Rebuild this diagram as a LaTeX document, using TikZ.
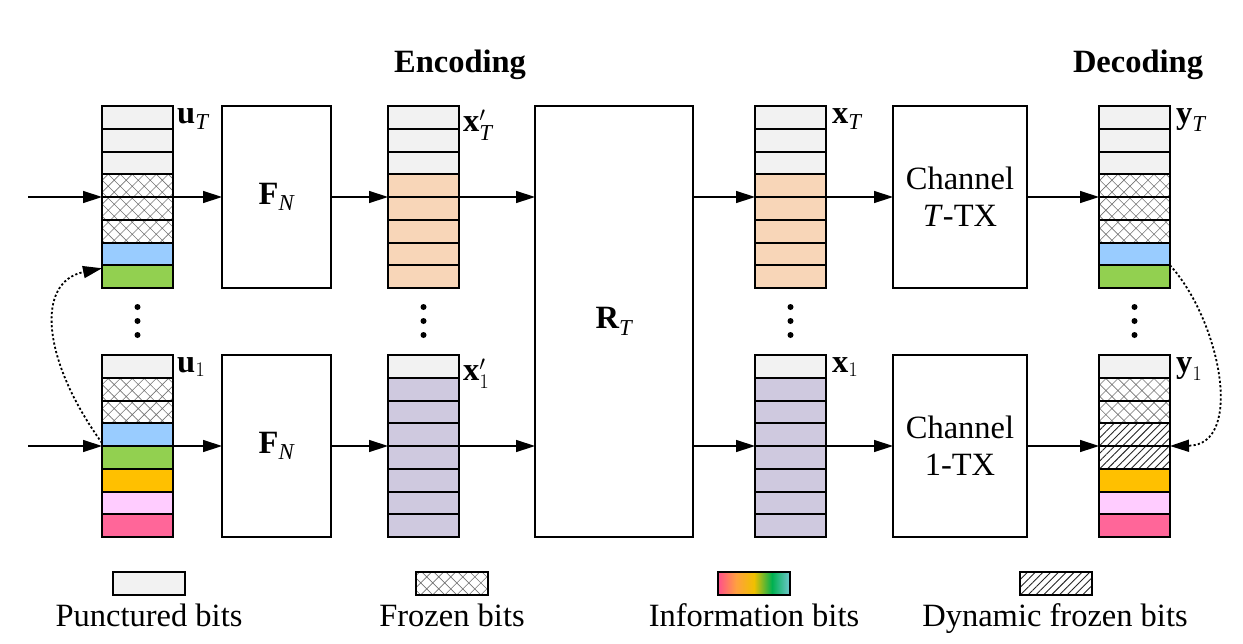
\documentclass[tikz,border=0pt]{standalone}
\usepackage{amsmath}
\usepackage{fontspec}
\setmainfont{Liberation Serif}
\usetikzlibrary{patterns.meta,arrows.meta}
\definecolor{cPun}{HTML}{F2F2F2}
\definecolor{cBlue}{HTML}{99CCFF}
\definecolor{cGreen}{HTML}{92D050}
\definecolor{cOrange}{HTML}{FFC000}
\definecolor{cPink}{HTML}{FFCCFF}
\definecolor{cRose}{HTML}{FF6699}
\definecolor{cPeach}{HTML}{F8D6B8}
\definecolor{cLav}{HTML}{CFC9DF}
\definecolor{gA}{HTML}{FF4F8B}
\definecolor{gB}{HTML}{FFA040}
\definecolor{gC}{HTML}{F0C000}
\definecolor{gD}{HTML}{00B050}
\definecolor{gE}{HTML}{70C8D0}
\newcommand\bitcol[4]{%
  \foreach \s [count=\i] in {#4}{%
    \node[cell,\s,anchor=north west] (#1-\i) at ({#2},{#3+(\i-1)*22.75}) {};
  }}
\begin{document}
\begin{tikzpicture}[x=1pt,y=-1pt,
  font=\fontsize{32.5}{37}\selectfont,
  cell/.style={draw, line width=2pt, minimum width=71pt, minimum height=22.75pt, inner sep=0pt, outer sep=0pt},
  bPun/.style={fill=cPun},
  bFrz/.style={pattern={Hatch[angle=45,distance=8.5pt,line width=0.6pt]}, pattern color=black!55},
  bDyn/.style={pattern={Lines[angle=45,distance=5.5pt,line width=0.9pt]}, pattern color=black!85},
  bBlue/.style={fill=cBlue},
  bGreen/.style={fill=cGreen},
  bOrange/.style={fill=cOrange},
  bPink/.style={fill=cPink},
  bRose/.style={fill=cRose},
  bPeach/.style={fill=cPeach},
  bLav/.style={fill=cLav},
  box/.style={draw, line width=1.6pt, inner sep=0pt, outer sep=0pt, align=center},
  arr/.style={line width=1.4pt, -{Triangle[length=19pt,width=12pt]}},
  darr/.style={line width=1.8pt, dash pattern=on 2.2pt off 2.2pt, -{Triangle[length=19pt,width=12pt]}},
  legbox/.style={draw, line width=2pt, minimum width=72pt, minimum height=23pt, inner sep=0pt, outer sep=0pt},
  lbl/.style={anchor=base west, inner sep=0pt}
]
\useasboundingbox (0,0) rectangle (1243,643);

% headings
\node[anchor=base] (enc) at (460,72) {\textbf{Encoding}};
\node[anchor=base] (dec) at (1138,72) {\textbf{Decoding}};

% bit columns
\bitcol{uT}{102}{106}{bPun,bPun,bPun,bFrz,bFrz,bFrz,bBlue,bGreen}
\bitcol{u1}{102}{355}{bPun,bFrz,bFrz,bBlue,bGreen,bOrange,bPink,bRose}
\bitcol{xpT}{388}{106}{bPun,bPun,bPun,bPeach,bPeach,bPeach,bPeach,bPeach}
\bitcol{xp1}{388}{355}{bPun,bLav,bLav,bLav,bLav,bLav,bLav,bLav}
\bitcol{xT}{755}{106}{bPun,bPun,bPun,bPeach,bPeach,bPeach,bPeach,bPeach}
\bitcol{x1}{755}{355}{bPun,bLav,bLav,bLav,bLav,bLav,bLav,bLav}
\bitcol{yT}{1099}{106}{bPun,bPun,bPun,bFrz,bFrz,bFrz,bBlue,bGreen}
\bitcol{y1}{1099}{355}{bPun,bFrz,bFrz,bDyn,bDyn,bOrange,bPink,bRose}

% column labels
\node[lbl] (luT) at (177,123) {$\textbf{u}_{\textit{T}}$};
\node[lbl] (lu1) at (177,372) {$\textbf{u}_{1}$};
\node[lbl] (lxpT) at (463,131) {$\textbf{x}'_{\textit{T}}$};
\node[lbl] (lxp1) at (463,380) {$\textbf{x}'_{1}$};
\node[lbl] (lxT) at (832,123) {$\textbf{x}_{\textit{T}}$};
\node[lbl] (lx1) at (832,372) {$\textbf{x}_{1}$};
\node[lbl] (lyT) at (1176,123) {$\textbf{y}_{\textit{T}}$};
\node[lbl] (ly1) at (1176,372) {$\textbf{y}_{1}$};

% vertical dots
\foreach \cx in {137.5,423.5,790.5,1134.5}{
  \foreach \cy in {307,321,335}{
    \fill (\cx,\cy) circle[radius=3pt];
  }
}

% processing boxes
\node[box, minimum width=109pt, minimum height=182pt] (FT) at (276.5,197) {$\textbf{F}_{\textit{N}}$};
\node[box, minimum width=109pt, minimum height=182pt] (F1) at (276.5,446) {$\textbf{F}_{\textit{N}}$};
\node[box, minimum width=158pt, minimum height=431pt] (RT) at (614,321.5) {$\textbf{R}_{\textit{T}}$};
\node[box, minimum width=134pt, minimum height=182pt] (CT) at (960,197) {Channel\\\textit{T}-TX};
\node[box, minimum width=134pt, minimum height=182pt] (C1) at (960,446) {Channel\\1-TX};

% input coordinates
\coordinate (inT) at (28,197);
\coordinate (in1) at (28,446);

% connectors top
\draw[arr] (inT) -- (uT-4.south west);
\draw[arr] (uT-4.south east) -- (FT.west);
\draw[arr] (FT.east) -- (xpT-4.south west);
\draw[arr] (xpT-4.south east) -- (xpT-4.south east -| RT.west);
\draw[arr] (RT.east |- xT-4.south west) -- (xT-4.south west);
\draw[arr] (xT-4.south east) -- (CT.west);
\draw[arr] (CT.east) -- (yT-4.south west);
% connectors bottom
\draw[arr] (in1) -- (u1-4.south west);
\draw[arr] (u1-4.south east) -- (F1.west);
\draw[arr] (F1.east) -- (xp1-4.south west);
\draw[arr] (xp1-4.south east) -- (xp1-4.south east -| RT.west);
\draw[arr] (RT.east |- x1-4.south west) -- (x1-4.south west);
\draw[arr] (x1-4.south east) -- (C1.west);
\draw[arr] (C1.east) -- (y1-4.south west);

% dotted curved arrows
\draw[darr] ([yshift=3pt]u1-4.south west) .. controls (42,360) and (35,282) .. ([yshift=-3pt]uT-8.north west);
\draw[darr] (yT-8.north east) .. controls (1220,320) and (1245,445) .. (y1-4.south east);

% legend
\node[legbox, fill=cPun] (lgPun) at (149,583.5) {};
\node[legbox, bFrz] (lgFrz) at (451.5,583.5) {};
\shade[left color=gA, right color=gB] (718,572) rectangle (736,595);
\shade[left color=gB, right color=gC] (736,572) rectangle (754,595);
\shade[left color=gC, right color=gD] (754,572) rectangle (772,595);
\shade[left color=gD, right color=gE] (772,572) rectangle (790,595);
\node[legbox] (lgInf) at (754,583.5) {};
\node[legbox, bDyn] (lgDyn) at (1056,583.5) {};

\node[anchor=base] (tPun) at (149,626) {Punctured bits};
\node[anchor=base] (tFrz) at (452,626) {Frozen bits};
\node[anchor=base] (tInf) at (754,626) {Information bits};
\node[anchor=base] (tDyn) at (1055,626) {Dynamic frozen bits};
\end{tikzpicture}
\end{document}
